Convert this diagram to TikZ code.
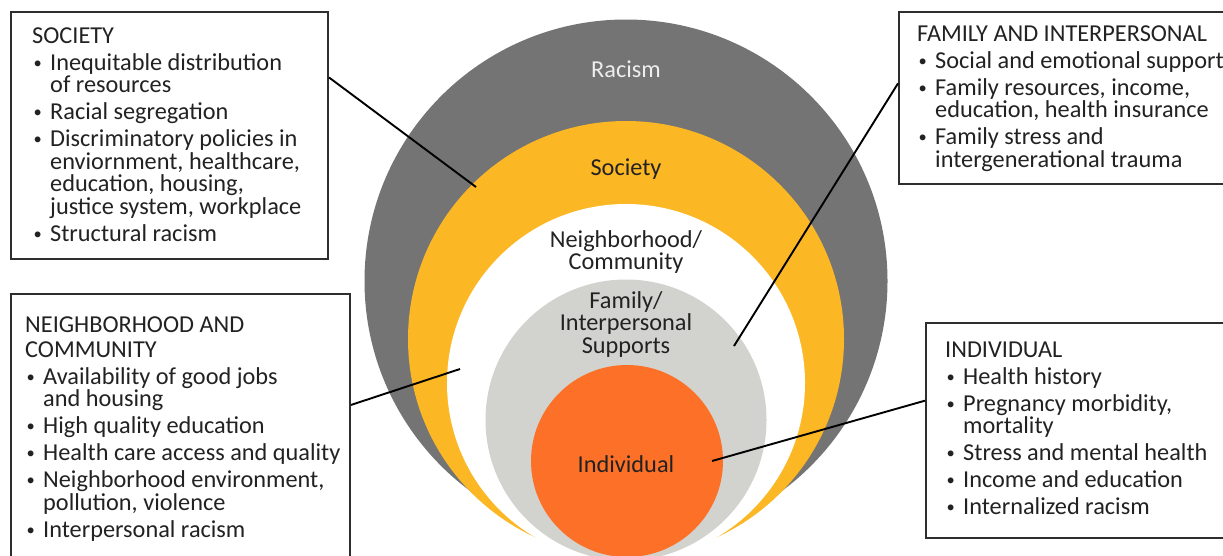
\documentclass[tikz,border=0pt]{standalone}
\usepackage{fontspec}
\setmainfont{Carlito}
\definecolor{ringgray}{HTML}{747474}
\definecolor{ringyellow}{HTML}{FCB725}
\definecolor{ringlight}{HTML}{D2D3CE}
\definecolor{ringorange}{HTML}{FC7127}
\definecolor{racismtext}{HTML}{EDEDED}
\definecolor{textdark}{HTML}{222222}
\definecolor{framecol}{HTML}{2E2E2E}
\newcommand{\leftlines}[1]{\vtop{\baselineskip=22.5pt\lineskiplimit=-100pt\lineskip=0pt\halign{##\hfil\cr#1\crcr}}}
\newcommand{\centerlines}[1]{\vtop{\baselineskip=22.5pt\lineskiplimit=-100pt\lineskip=0pt\halign{\hfil##\hfil\cr#1\crcr}}}
\newcommand{\bul}{\makebox[18pt][l]{\hspace*{1.5pt}\raisebox{1.6pt}{\fontsize{16.5}{16}\selectfont\textbullet}}}
\newcommand{\ind}{\hspace*{18pt}}
\newcommand{\gap}{\noalign{\vskip4.5pt}}
\newcommand{\hgap}{\noalign{\vskip2.5pt}}
\begin{document}
\begin{tikzpicture}[x=1pt,y=-1pt,
  disc/.style={circle, inner sep=0pt, draw=none},
  clabel/.style={anchor=base, inner sep=0pt, text=textdark, font=\fontsize{24.3}{22.5}\selectfont},
  btext/.style={anchor=base west, inner sep=0pt, text=textdark, font=\fontsize{24.3}{22.5}\selectfont},
  boxframe/.style={draw=framecol, line width=2pt, fill=white, inner sep=0pt, anchor=north west},
  connector/.style={draw=black, line width=1.9pt}]
\useasboundingbox (0,0) rectangle (1223,555);
\clip (0,0) rectangle (1223,555);
\fill[white] (0,0) rectangle (1223,555);
% nested circles
\node[disc, fill=ringgray, minimum size=523pt] (racism) at (626,281) {};
\node[disc, fill=ringyellow, minimum size=436pt] (society) at (626,339) {};
\node[disc, fill=white, minimum size=358pt] (neigh) at (626,383) {};
\node[disc, fill=ringlight, minimum size=281pt] (family) at (626,420) {};
\node[disc, fill=ringorange, minimum size=192pt] (indiv) at (627,461) {};
% circle labels
\node[clabel, text=racismtext] (lracism) at (626,77) {Racism};
\node[clabel] (lsociety) at (626,175) {Society};
\node[clabel] (lneigh) at (626,247) {\centerlines{Neighborhood/\cr Community}};
\node[clabel] (lfamily) at (626,308) {\centerlines{Family/\cr Interpersonal\cr Supports}};
\node[clabel] (lindiv) at (626,472) {Individual};
% boxes
\node[boxframe, minimum width=317pt, minimum height=247pt] (socbox) at (10,11) {};
\node[boxframe, minimum width=332pt, minimum height=172pt] (fambox) at (898,11) {};
\node[boxframe, minimum width=339pt, minimum height=282pt] (neibox) at (10,293) {};
\node[boxframe, minimum width=305pt, minimum height=215pt] (indbox) at (925,322) {};
% box texts
\node[btext] (soctext) at (32,43) {\leftlines{SOCIETY\cr\gap
\bul Inequitable distribution\cr
\ind of resources\cr\gap
\bul Racial segregation\cr\gap
\bul Discriminatory policies in\cr
\ind enviornment, healthcare,\cr
\ind education, housing,\cr
\ind justice system, workplace\cr\gap
\bul Structural racism}};
\node[btext] (famtext) at (917,41) {\leftlines{FAMILY AND INTERPERSONAL\cr\gap
\bul Social and emotional support\cr\gap
\bul Family resources, income,\cr
\ind education, health insurance\cr\gap
\bul Family stress and\cr
\ind intergenerational trauma}};
\node[btext] (neitext) at (25,332) {\leftlines{NEIGHBORHOOD AND\cr\hgap
COMMUNITY\cr\gap
\bul Availability of good jobs\cr
\ind and housing\cr\gap
\bul High quality education\cr\gap
\bul Health care access and quality\cr\gap
\bul Neighborhood environment,\cr
\ind pollution, violence\cr\gap
\bul Interpersonal racism}};
\node[btext] (indtext) at (945,357) {\leftlines{INDIVIDUAL\cr\gap
\bul Health history\cr\gap
\bul Pregnancy morbidity,\cr
\ind mortality\cr\gap
\bul Stress and mental health\cr\gap
\bul Income and education\cr\gap
\bul Internalized racism}};
% connector end points
\coordinate (socend) at (476,187);
\coordinate (famend) at (734,346);
\coordinate (neiend) at (460,369);
\coordinate (indend) at (712,461);
\draw[connector] (socbox.20.57) -- (socend);
\draw[connector] (fambox.175.87) -- (famend);
\draw[connector] (neibox.10.69) -- (neiend);
\draw[connector] (indbox.169.05) -- (indend);
\end{tikzpicture}
\end{document}
